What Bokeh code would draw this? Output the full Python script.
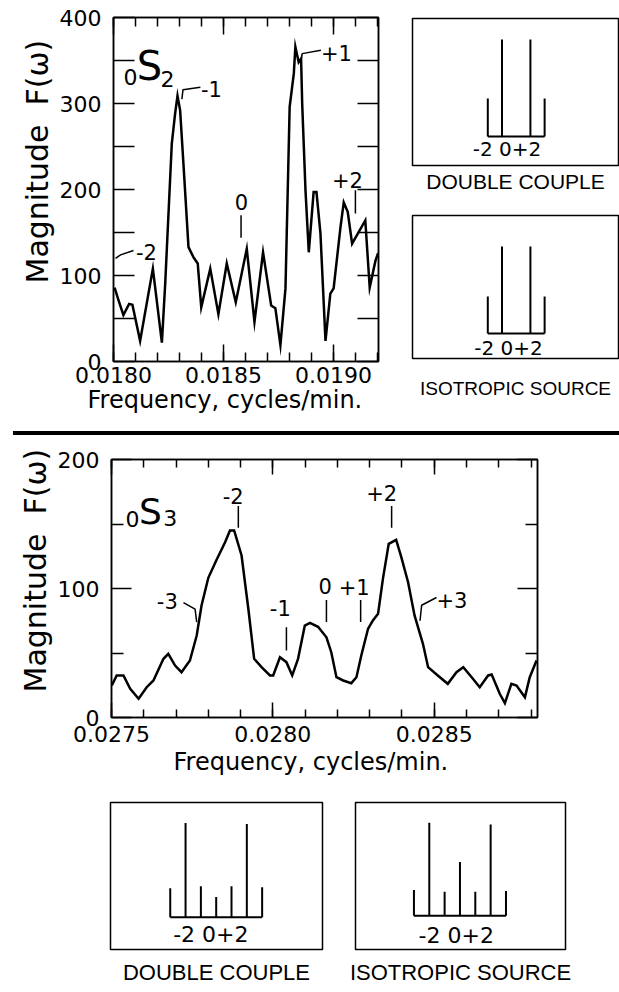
import numpy as np
from bokeh.plotting import figure
from bokeh.layouts import column, row, Spacer
from bokeh.models import (LinearAxis, FixedTicker, PrintfTickFormatter, Range1d,
                          Title, CustomJSTickFormatter, Div)
from bokeh.core.properties import value
from bokeh.embed import file_html
from bokeh.resources import INLINE

# ---------------- data: 0S2 spectrum ----------------
freq_s2 = [0.018005, 0.018023, 0.018045, 0.018071, 0.018086, 0.018121, 0.018179, 0.018220,
           0.018235, 0.018265, 0.018280, 0.018291, 0.018303, 0.018318, 0.018341, 0.018364,
           0.018383, 0.018399, 0.018440, 0.018477, 0.018515, 0.018556, 0.018606, 0.018641,
           0.018680, 0.018717, 0.018736, 0.018759, 0.018782, 0.018801, 0.018820, 0.018827,
           0.018842, 0.018853, 0.018858, 0.018873, 0.018888, 0.018910, 0.018923, 0.018941,
           0.018964, 0.018986, 0.019001, 0.019032, 0.019047, 0.019065, 0.019085, 0.019145,
           0.019165, 0.019191, 0.019203]
mag_s2 = [86, 71, 54, 67, 66, 24, 108, 22,
          90, 253, 288, 309, 292, 230, 133, 121,
          114, 63, 108, 55, 114, 69, 131, 46,
          127, 65, 62, 19, 85, 296, 335, 366,
          348, 352, 300, 199, 127, 197, 197, 149,
          24, 79, 85, 156, 185, 174, 137, 164,
          86, 117, 126]

# ---------------- data: 0S3 spectrum ----------------
freq_s3 = [0.027501, 0.027516, 0.027537, 0.027558, 0.027584, 0.027609, 0.027630, 0.027661,
           0.027676, 0.027697, 0.027717, 0.027743, 0.027764, 0.027779, 0.027800, 0.027826,
           0.027852, 0.027867, 0.027880, 0.027903, 0.027924, 0.027942, 0.027965, 0.027991,
           0.028001, 0.028022, 0.028042, 0.028060, 0.028078, 0.028099, 0.028115, 0.028140,
           0.028166, 0.028181, 0.028197, 0.028218, 0.028243, 0.028259, 0.028274, 0.028295,
           0.028310, 0.028326, 0.028341, 0.028359, 0.028382, 0.028398, 0.028419, 0.028439,
           0.028465, 0.028481, 0.028511, 0.028542, 0.028569, 0.028590, 0.028616, 0.028641,
           0.028667, 0.028678, 0.028703, 0.028719, 0.028739, 0.028755, 0.028781, 0.028796,
           0.028817]
mag_s3 = [24.8, 32.6, 32.6, 22.2, 14.5, 23.5, 28.7, 45.5,
          49.4, 40.3, 35.1, 44.2, 63.6, 86.8, 108.3, 122.5,
          135.9, 145.0, 145.0, 125.6, 84.3, 45.5, 39.0, 32.6,
          32.6, 46.7, 42.9, 32.6, 45.5, 71.3, 73.4, 70.3,
          62.2, 50.6, 31.2, 28.7, 26.6, 31.2, 48.1, 68.8,
          75.2, 80.4, 107.5, 134.6, 137.7, 124.3, 104.9, 79.1,
          57.1, 39.0, 32.6, 26.1, 35.1, 39.0, 31.2, 23.5,
          32.6, 33.3, 18.4, 11.1, 26.1, 24.8, 15.7, 31.2,
          44.2]

# ---------------- axis ticks ----------------
s2_xticks = [0.0180, 0.0185, 0.0190]
s2_xminor = [round(0.0180 + 0.0001 * i, 4) for i in range(13)]
s2_yticks = [0, 100, 200, 300, 400]
s2_yminor = [50, 150, 250, 350]
s3_xticks = [0.0275, 0.0280, 0.0285]
s3_xminor = [round(0.0275 + 0.0001 * i, 4) for i in range(14)]
s3_yticks = [0, 100, 200]
s3_yminor = [50, 150]

# ---------------- singlet predictions (relative amplitudes) ----------------
order_s2 = [-2, -1, 0, 1, 2]
dc_s2 = [38, 97, 0, 97, 38]
iso_s2 = [37, 87, 0, 87, 37]
order_s3 = [-3, -2, -1, 0, 1, 2, 3]
dc_s3 = [30, 97, 32, 21, 32, 96, 31]
iso_s3 = [27, 97, 25, 56, 25, 95, 26]

FONT = "DejaVu Sans"
BOXFONT = "Liberation Sans"
BLACK = "black"


def style_axis(ax, tick_in, minor_in, labels=True, size="22px", standoff=12):
    ax.axis_line_width = 1.5
    ax.axis_line_color = BLACK
    ax.major_tick_in = tick_in
    ax.major_tick_out = 0
    ax.minor_tick_in = minor_in
    ax.minor_tick_out = 0
    ax.major_tick_line_width = 1.5
    ax.minor_tick_line_width = 1.5
    ax.major_tick_line_color = BLACK
    ax.minor_tick_line_color = BLACK
    ax.major_label_text_font = FONT
    ax.major_label_text_font_size = size
    ax.major_label_text_color = BLACK
    ax.major_label_standoff = standoff
    if not labels:
        ax.formatter = CustomJSTickFormatter(code="return ''")
        ax.major_label_standoff = 0


def spectrum_fig(width, height, xr, yr, borders, xt, xm, yt, ym,
                 x_in, x_min_in, y_in, y_min_in, x_standoff):
    l, r, t, b = borders
    p = figure(width=width, height=height, x_range=Range1d(*xr), y_range=Range1d(*yr),
               x_axis_type=None, y_axis_type=None, toolbar_location=None,
               output_backend="svg", min_border_left=l, min_border_right=r,
               min_border_top=t, min_border_bottom=b,
               outline_line_color=BLACK, outline_line_width=1.5,
               background_fill_color="white", border_fill_color="white")
    xb = LinearAxis(ticker=FixedTicker(ticks=xt, minor_ticks=xm),
                    formatter=PrintfTickFormatter(format="%.4f"))
    style_axis(xb, x_in, x_min_in, standoff=x_standoff)
    p.add_layout(xb, "below")
    xa = LinearAxis(ticker=FixedTicker(ticks=xt, minor_ticks=xm))
    style_axis(xa, x_in, x_min_in, labels=False)
    p.add_layout(xa, "above")
    yl = LinearAxis(ticker=FixedTicker(ticks=yt, minor_ticks=ym))
    style_axis(yl, y_in, y_min_in, standoff=12)
    p.add_layout(yl, "left")
    yrr = LinearAxis(ticker=FixedTicker(ticks=yt, minor_ticks=ym))
    style_axis(yrr, y_in, y_min_in, labels=False)
    p.add_layout(yrr, "right")
    return p


def add_text(p, xs, ys, texts, size="20px"):
    p.text(x=xs, y=ys, text=texts, text_font=value(FONT), text_font_size=size,
           text_align="center", text_baseline="middle", text_color=BLACK)


def add_leaders(p, paths):
    for xs, ys in paths:
        p.line(xs, ys, line_color=BLACK, line_width=1.5)


def title(text, align, offset, standoff, size, font=FONT):
    return Title(text=text, align=align, offset=offset, standoff=standoff,
                 text_font=font, text_font_size=size, text_font_style="normal",
                 text_color=BLACK)


# ================= 0S2 panel =================
p1 = spectrum_fig(400, 431, (0.0180, 0.019205), (0, 400), (113, 22, 17, 70),
                  s2_xticks, s2_xminor, s2_yticks, s2_yminor, 17, 9, 21, 21, 5)
p1.line(freq_s2, mag_s2, line_color=BLACK, line_width=2.5, line_join="miter")
add_text(p1, [0.018077, 0.018245], [331, 328], ["0", "2"], size="22px")
add_text(p1, [0.018164], [344], ["S"], size="40px")
add_text(p1, [0.018150, 0.018445, 0.018582, 0.019014, 0.019064],
         [127, 317, 186, 359, 211], ["-2", "-1", "0", "+1", "+2"], size="21px")
add_leaders(p1, [
    ([0.018009, 0.018032, 0.018091], [120, 124, 129]),
    ([0.018311, 0.018316, 0.018395], [305, 316, 319]),
    ([0.018580, 0.018580], [170, 144]),
    ([0.018852, 0.018858, 0.018943], [350, 358, 362]),
    ([0.019100, 0.019100], [199, 172]),
])
p1.add_layout(title("Frequency, cycles/min.", "left", -26, -4, "24px"), "below")
p1.add_layout(title("Magnitude \u00a0F(\u03c9)", "left", 78, 4, "30px"), "left")


# ================= boxes =================
def box_fig(width, height, borders, xr, yr, orders, amps, lab_x, lab_y, lab_size,
            label, title_standoff, title_size):
    l, r, t, b = borders
    p = figure(width=width, height=height, x_range=Range1d(*xr), y_range=Range1d(*yr),
               x_axis_type=None, y_axis_type=None, toolbar_location=None,
               output_backend="svg", min_border_left=l, min_border_right=r,
               min_border_top=t, min_border_bottom=b,
               outline_line_color=BLACK, outline_line_width=1.5,
               background_fill_color="white", border_fill_color="white")
    n = len(orders)
    p.segment(x0=orders, y0=[0] * n, x1=orders, y1=amps, line_color=BLACK, line_width=2)
    p.segment(x0=[min(orders)], y0=[0], x1=[max(orders)], y1=[0], line_color=BLACK,
              line_width=2)
    p.text(x=[lab_x], y=[lab_y], text=["-2 0+2"], text_font=value(FONT),
           text_font_size=lab_size, text_align="center", text_baseline="middle",
           text_color=BLACK)
    p.add_layout(title(label, "center", 0, title_standoff, title_size, BOXFONT), "below")
    return p


dc1 = box_fig(219, 200, (12, 1, 18, 35), (-7.3, 7.2), (-29, 118), order_s2, dc_s2,
              -0.65, -12, "20px", "DOUBLE COUPLE", 4, "21px")
is1 = box_fig(219, 231, (12, 1, 15, 73), (-7.3, 7.2), (-25, 118), order_s2, iso_s2,
              -0.54, -14, "20px", "ISOTROPIC SOURCE", 34, "19px")

# ================= divider =================
divider = Div(text="", width=606, height=4, margin=(0, 0, 0, 0),
              styles={"background-color": "black"})

# ================= 0S3 panel =================
p2 = spectrum_fig(619, 355, (0.0275, 0.02882), (0, 200), (111, 82, 24, 73),
                  s3_xticks, s3_xminor, s3_yticks, s3_yminor, 15, 8, 20, 12, 8)
p2.line(freq_s3, mag_s3, line_color=BLACK, line_width=2.5, line_join="miter")
add_text(p2, [0.027565, 0.027682], [154, 155], ["0", "3"], size="22px")
add_text(p2, [0.027621], [160], ["S"], size="36px")
add_text(p2, [0.027877, 0.028337, 0.027673, 0.028023, 0.028162, 0.028252, 0.028555],
         [172, 174, 90, 85, 102, 101, 91],
         ["-2", "+2", "-3", "-1", "0", "+1", "+3"], size="21px")
add_leaders(p2, [
    ([0.027893, 0.027893], [164, 147]),
    ([0.028368, 0.028368], [164, 147]),
    ([0.027723, 0.027759, 0.027764], [89, 84, 74]),
    ([0.028042, 0.028042], [70, 52]),
    ([0.028166, 0.028166], [91, 74]),
    ([0.028272, 0.028272], [91, 74]),
    ([0.028507, 0.028461, 0.028456], [93, 87, 75]),
])
p2.add_layout(title("Frequency, cycles/min.", "left", 62, 2, "24px"), "below")
p2.add_layout(title("Magnitude \u00a0F(\u03c9)", "left", 25, 4, "30px"), "left")

# ================= bottom boxes =================
dc2 = box_fig(338, 202, (110, 16, 12, 39), (-6.9, 6.94), (-33, 118), order_s3, dc_s3,
              -0.35, -18, "22px", "DOUBLE COUPLE", 16, "22px")
is2 = box_fig(281, 202, (17, 54, 10, 39), (-6.81, 6.88), (-35, 118), order_s3, iso_s3,
              -0.24, -20, "22px", "ISOTROPIC SOURCE", 16, "22px")

layout = column(
    row(p1, column(dc1, is1)),
    row(Spacer(width=13, height=4), divider),
    p2,
    row(dc2, is2),
)

open("out.html", "w").write(file_html(layout, INLINE))
